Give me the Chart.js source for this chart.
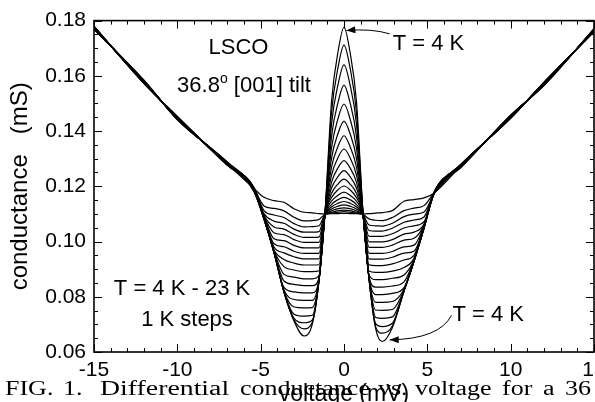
<!DOCTYPE html>
<html>
<head>
<meta charset="utf-8">
<script src="https://cdn.jsdelivr.net/npm/chart.js@4.4.0/dist/chart.umd.min.js"></script>
<style>
  html, body { margin: 0; padding: 0; background: #fff; overflow: hidden; }
  body { width: 595px; height: 402px; position: relative; }
  #wrap { position: absolute; left: 0; top: 0; width: 620px; height: 420px; }
  .cap {
    position: absolute; top: 378px;
    font-family: "Liberation Serif", serif; font-size: 20px; line-height: 20px;
    white-space: nowrap; color: #000;
    transform: scaleX(1.3); transform-origin: left top;
  }
</style>
</head>
<body>
<div id="wrap"><canvas id="chart"></canvas></div>
<span class="cap" style="left:5px">FIG.</span>
<span class="cap" style="left:63px">1.</span>
<span class="cap" style="left:100px; transform: scaleX(1.39)">Differential</span>
<span class="cap" style="left:240px">conductance</span>
<span class="cap" style="left:378px">vs.</span>
<span class="cap" style="left:415px">voltage</span>
<span class="cap" style="left:502px">for</span>
<span class="cap" style="left:543px">a</span>
<span class="cap" style="left:565px">36</span>
<script>
// Conductance curves of the LSCO grain boundary junction, T = 4 K ... 23 K.
const voltage = [-15, -12, -10, -7, -5.4, -4.8, -4.2, -3.6, -3.0, -2.4, -1.9, -1.5, -1.15,
  -0.75, -0.35, 0, 0.35, 0.75, 1.15, 1.5, 1.9, 2.3, 2.9, 3.6, 4.2, 4.8, 5.4, 7, 10, 12, 15];

const temperatures = [4, 5, 6, 7, 8, 9, 10, 11, 12, 13, 14, 15, 16, 17, 18, 19, 20, 21, 22, 23];

const g4K = [0.1776, 0.1576, 0.1449, 0.1280, 0.1180, 0.1080, 0.0959, 0.0816, 0.0712, 0.0658, 0.0702, 0.0857, 0.1094,
  0.1506, 0.1690, 0.1776, 0.1690, 0.1506, 0.1094, 0.0865, 0.0685, 0.0638, 0.0688, 0.0820, 0.0927, 0.1047, 0.1174, 0.1275, 0.1450, 0.1573, 0.1763];
const g5K = [0.1771, 0.1581, 0.1444, 0.1285, 0.1181, 0.1081, 0.0960, 0.0817, 0.0716, 0.0684, 0.0708, 0.0858, 0.1096,
  0.1466, 0.1633, 0.1711, 0.1633, 0.1466, 0.1096, 0.0866, 0.0691, 0.0668, 0.0694, 0.0821, 0.0928, 0.1048, 0.1177, 0.1270, 0.1455, 0.1568, 0.1768];
const g6K = [0.1779, 0.1573, 0.1452, 0.1277, 0.1183, 0.1082, 0.0961, 0.0818, 0.0722, 0.0706, 0.0716, 0.0859, 0.1095,
  0.1424, 0.1571, 0.1640, 0.1571, 0.1424, 0.1095, 0.0867, 0.0703, 0.0692, 0.0704, 0.0822, 0.0929, 0.1049, 0.1173, 0.1278, 0.1447, 0.1576, 0.1760];
const g7K = [0.1773, 0.1579, 0.1446, 0.1283, 0.1184, 0.1082, 0.0961, 0.0818, 0.0737, 0.0730, 0.0733, 0.0859, 0.1094,
  0.1379, 0.1506, 0.1566, 0.1506, 0.1379, 0.1094, 0.0867, 0.0725, 0.0722, 0.0727, 0.0822, 0.0929, 0.1049, 0.1175, 0.1272, 0.1453, 0.1570, 0.1766];
const g8K = [0.1777, 0.1575, 0.1450, 0.1279, 0.1186, 0.1083, 0.0962, 0.0820, 0.0763, 0.0760, 0.0761, 0.0860, 0.1096,
  0.1338, 0.1447, 0.1498, 0.1447, 0.1338, 0.1096, 0.0868, 0.0752, 0.0751, 0.0754, 0.0824, 0.0930, 0.1050, 0.1174, 0.1276, 0.1449, 0.1574, 0.1762];
const g9K = [0.1769, 0.1583, 0.1442, 0.1287, 0.1185, 0.1084, 0.0963, 0.0825, 0.0790, 0.0787, 0.0787, 0.0862, 0.1095,
  0.1301, 0.1393, 0.1436, 0.1393, 0.1301, 0.1095, 0.0869, 0.0780, 0.0780, 0.0783, 0.0827, 0.0931, 0.1051, 0.1178, 0.1268, 0.1457, 0.1566, 0.1770];
const g10K = [0.1775, 0.1577, 0.1448, 0.1281, 0.1188, 0.1085, 0.0964, 0.0834, 0.0818, 0.0814, 0.0814, 0.0863, 0.1094,
  0.1269, 0.1346, 0.1383, 0.1346, 0.1269, 0.1094, 0.0871, 0.0808, 0.0808, 0.0812, 0.0833, 0.0932, 0.1052, 0.1175, 0.1274, 0.1451, 0.1572, 0.1764];
const g11K = [0.1772, 0.1580, 0.1445, 0.1284, 0.1188, 0.1086, 0.0965, 0.0857, 0.0845, 0.0840, 0.0840, 0.0868, 0.1096,
  0.1240, 0.1305, 0.1335, 0.1305, 0.1240, 0.1096, 0.0874, 0.0835, 0.0835, 0.0839, 0.0854, 0.0933, 0.1053, 0.1176, 0.1271, 0.1454, 0.1569, 0.1767];
const g12K = [0.1778, 0.1574, 0.1451, 0.1278, 0.1191, 0.1086, 0.0965, 0.0881, 0.0871, 0.0865, 0.0865, 0.0877, 0.1095,
  0.1214, 0.1268, 0.1293, 0.1268, 0.1214, 0.1095, 0.0879, 0.0862, 0.0862, 0.0867, 0.0879, 0.0934, 0.1053, 0.1173, 0.1277, 0.1448, 0.1575, 0.1761];
const g13K = [0.1770, 0.1582, 0.1443, 0.1286, 0.1189, 0.1087, 0.0967, 0.0909, 0.0897, 0.0891, 0.0891, 0.0894, 0.1095,
  0.1193, 0.1236, 0.1257, 0.1236, 0.1193, 0.1095, 0.0893, 0.0888, 0.0888, 0.0893, 0.0906, 0.0939, 0.1054, 0.1177, 0.1269, 0.1456, 0.1567, 0.1769];
const g14K = [0.1780, 0.1572, 0.1453, 0.1276, 0.1195, 0.1088, 0.0970, 0.0935, 0.0922, 0.0915, 0.0915, 0.0916, 0.1094,
  0.1174, 0.1209, 0.1226, 0.1209, 0.1174, 0.1094, 0.0916, 0.0913, 0.0913, 0.0919, 0.0933, 0.0950, 0.1055, 0.1172, 0.1279, 0.1446, 0.1577, 0.1759];
const g15K = [0.1774, 0.1578, 0.1447, 0.1282, 0.1192, 0.1089, 0.0980, 0.0959, 0.0945, 0.0937, 0.0937, 0.0937, 0.1096,
  0.1159, 0.1188, 0.1201, 0.1188, 0.1159, 0.1096, 0.0937, 0.0936, 0.0936, 0.0943, 0.0958, 0.0965, 0.1056, 0.1175, 0.1273, 0.1452, 0.1571, 0.1765];
const g16K = [0.1771, 0.1581, 0.1444, 0.1285, 0.1190, 0.1090, 0.0992, 0.0981, 0.0965, 0.0957, 0.0957, 0.0957, 0.1095,
  0.1146, 0.1168, 0.1179, 0.1168, 0.1146, 0.1095, 0.0957, 0.0957, 0.0957, 0.0964, 0.0981, 0.0987, 0.1058, 0.1177, 0.1270, 0.1455, 0.1568, 0.1768];
const g17K = [0.1776, 0.1576, 0.1449, 0.1280, 0.1193, 0.1091, 0.1010, 0.1003, 0.0986, 0.0977, 0.0977, 0.0977, 0.1095,
  0.1134, 0.1152, 0.1160, 0.1152, 0.1134, 0.1095, 0.0979, 0.0979, 0.0979, 0.0987, 0.1005, 0.1012, 0.1060, 0.1174, 0.1275, 0.1450, 0.1573, 0.1763];
const g18K = [0.1768, 0.1584, 0.1441, 0.1288, 0.1189, 0.1092, 0.1032, 0.1025, 0.1007, 0.0997, 0.0997, 0.0997, 0.1096,
  0.1125, 0.1139, 0.1145, 0.1139, 0.1125, 0.1096, 0.0999, 0.0999, 0.0999, 0.1007, 0.1027, 0.1034, 0.1063, 0.1178, 0.1267, 0.1458, 0.1565, 0.1771];
const g19K = [0.1777, 0.1575, 0.1450, 0.1279, 0.1194, 0.1095, 0.1053, 0.1045, 0.1026, 0.1015, 0.1015, 0.1016, 0.1095,
  0.1118, 0.1128, 0.1133, 0.1128, 0.1118, 0.1095, 0.1019, 0.1019, 0.1019, 0.1028, 0.1049, 0.1057, 0.1072, 0.1174, 0.1276, 0.1449, 0.1574, 0.1762];
const g20K = [0.1773, 0.1579, 0.1446, 0.1283, 0.1192, 0.1101, 0.1074, 0.1066, 0.1045, 0.1034, 0.1034, 0.1036, 0.1096,
  0.1111, 0.1119, 0.1122, 0.1119, 0.1111, 0.1096, 0.1040, 0.1038, 0.1038, 0.1048, 0.1070, 0.1078, 0.1089, 0.1175, 0.1272, 0.1453, 0.1570, 0.1766];
const g21K = [0.1779, 0.1573, 0.1452, 0.1277, 0.1195, 0.1112, 0.1096, 0.1087, 0.1065, 0.1053, 0.1054, 0.1057, 0.1097,
  0.1106, 0.1112, 0.1114, 0.1112, 0.1106, 0.1097, 0.1060, 0.1057, 0.1056, 0.1066, 0.1090, 0.1099, 0.1107, 0.1173, 0.1278, 0.1447, 0.1576, 0.1760];
const g22K = [0.1772, 0.1580, 0.1445, 0.1284, 0.1191, 0.1129, 0.1120, 0.1111, 0.1088, 0.1075, 0.1076, 0.1080, 0.1098,
  0.1103, 0.1106, 0.1108, 0.1106, 0.1103, 0.1098, 0.1082, 0.1077, 0.1076, 0.1087, 0.1112, 0.1121, 0.1130, 0.1176, 0.1271, 0.1454, 0.1569, 0.1767];
const g23K = [0.1775, 0.1577, 0.1448, 0.1281, 0.1192, 0.1160, 0.1148, 0.1142, 0.1119, 0.1106, 0.1104, 0.1101, 0.1100,
  0.1101, 0.1101, 0.1102, 0.1101, 0.1101, 0.1100, 0.1101, 0.1103, 0.1105, 0.1112, 0.1146, 0.1152, 0.1158, 0.1175, 0.1274, 0.1451, 0.1572, 0.1764];

const curves = [g4K, g5K, g6K, g7K, g8K, g9K, g10K, g11K, g12K, g13K,
  g14K, g15K, g16K, g17K, g18K, g19K, g20K, g21K, g22K, g23K];

// axis ticks
const xTickValues = [-15, -10, -5, 0, 5, 10, 15];
const yTickValues = [0.06, 0.08, 0.10, 0.12, 0.14, 0.16, 0.18];

// arrows: start, control, tip (voltage, conductance)
const topArrow = [[2.74, 0.1752], [1.66, 0.1772], [0.14, 0.1764]];
const bottomArrow = [[6.45, 0.0733], [5.73, 0.0647], [2.74, 0.0644]];

const SANS = '"Liberation Sans", Arial, sans-serif';

/**
 * Inward tick marks on all four sides plus the box round the plot
 */
const framePlugin = {
  id: 'frame',
  afterDatasetsDraw(chart) {
    const { ctx, chartArea: a } = chart;
    const x = chart.scales.x, y = chart.scales.y;
    ctx.save();
    ctx.strokeStyle = '#000';
    ctx.lineWidth = 1;
    ctx.beginPath();
    for (let i = 0; i <= 30; i++) {
      const px = Math.round(x.getPixelForValue(-15 + i)) + 0.5;
      const len = i % 5 === 0 ? 8 : 4;
      ctx.moveTo(px, a.bottom); ctx.lineTo(px, a.bottom - len);
      ctx.moveTo(px, a.top); ctx.lineTo(px, a.top + len);
    }
    for (let i = 0; i <= 24; i++) {
      const py = Math.round(y.getPixelForValue(0.06 + i * 0.005)) + 0.5;
      const len = i % 4 === 0 ? 8 : 4;
      ctx.moveTo(a.left, py); ctx.lineTo(a.left + len, py);
      ctx.moveTo(a.right, py); ctx.lineTo(a.right - len, py);
    }
    ctx.stroke();
    ctx.lineWidth = 1.6;
    ctx.strokeRect(a.left, a.top, a.right - a.left, a.bottom - a.top);
    ctx.restore();
  }
};

function drawArrow(ctx, x, y, pts) {
  const p = pts.map(([v, g]) => [x.getPixelForValue(v), y.getPixelForValue(g)]);
  ctx.beginPath();
  ctx.moveTo(p[0][0], p[0][1]);
  ctx.quadraticCurveTo(p[1][0], p[1][1], p[2][0], p[2][1]);
  ctx.stroke();
  // arrow head along the last tangent
  const ang = Math.atan2(p[2][1] - p[1][1], p[2][0] - p[1][0]);
  const len = 9, half = 3.5;
  const bx = p[2][0] - len * Math.cos(ang), by = p[2][1] - len * Math.sin(ang);
  ctx.beginPath();
  ctx.moveTo(p[2][0], p[2][1]);
  ctx.lineTo(bx - half * Math.sin(ang), by + half * Math.cos(ang));
  ctx.lineTo(bx + half * Math.sin(ang), by - half * Math.cos(ang));
  ctx.closePath();
  ctx.fill();
}

/**
 * Text labels and arrows inside the plot
 */
const notesPlugin = {
  id: 'notes',
  afterDraw(chart) {
    const { ctx } = chart;
    const x = chart.scales.x, y = chart.scales.y;
    ctx.save();
    ctx.fillStyle = '#000';
    ctx.strokeStyle = '#000';
    ctx.lineWidth = 1;
    ctx.textBaseline = 'alphabetic';
    ctx.font = '22px ' + SANS;

    ctx.textAlign = 'center';
    ctx.fillText('LSCO', x.getPixelForValue(-6.33), y.getPixelForValue(0.1680));
    ctx.fillText('T = 4 K - 23 K', x.getPixelForValue(-9.72), y.getPixelForValue(0.0808));
    ctx.fillText('1 K steps', x.getPixelForValue(-9.42), y.getPixelForValue(0.0693));

    // "36.8°  [001] tilt" with a raised small o
    const a = '36.8', b = ' [001] tilt';
    ctx.textAlign = 'left';
    const wa = ctx.measureText(a).width, wb = ctx.measureText(b).width;
    ctx.font = '14px ' + SANS;
    const wo = ctx.measureText('o').width;
    const total = wa + wo + wb;
    let tx = x.getPixelForValue(-6.0) - total / 2;
    const ty = y.getPixelForValue(0.1540);
    ctx.font = '22px ' + SANS;
    ctx.fillText(a, tx, ty);
    ctx.font = '14px ' + SANS;
    ctx.fillText('o', tx + wa, ty - 9);
    ctx.font = '22px ' + SANS;
    ctx.fillText(b, tx + wa + wo, ty);

    ctx.fillText('T = 4 K', x.getPixelForValue(2.92), y.getPixelForValue(0.1692));
    ctx.fillText('T = 4 K', x.getPixelForValue(6.51), y.getPixelForValue(0.0712));

    drawArrow(ctx, x, y, topArrow);
    drawArrow(ctx, x, y, bottomArrow);
    ctx.restore();
  }
};

const datasets = curves.map((vals, i) => ({
  label: temperatures[i] + ' K',
  data: voltage.map((v, j) => ({ x: v, y: vals[j] })),
  borderColor: '#000',
  borderWidth: 1.2,
  pointRadius: 0,
  fill: false,
  cubicInterpolationMode: 'monotone'
}));

new Chart(document.getElementById('chart'), {
  type: 'line',
  data: { datasets },
  options: {
    responsive: true,
    maintainAspectRatio: false,
    animation: false,
    layout: { padding: { left: 0, right: 26, top: 18, bottom: 0 } },
    plugins: { legend: { display: false }, tooltip: { enabled: false } },
    scales: {
      x: {
        type: 'linear',
        min: -15,
        max: 15,
        afterBuildTicks: s => { s.ticks = xTickValues.map(v => ({ value: v })); },
        afterFit: s => { s.height = 68; },
        grid: { display: false, drawTicks: false },
        border: { display: false },
        ticks: {
          color: '#000', padding: 6, maxRotation: 0, autoSkip: false,
          font: { family: SANS, size: 21 },
          callback: v => String(v)
        },
        title: {
          display: true, text: 'voltage (mV)', color: '#000',
          font: { family: SANS, size: 23 },
          padding: { top: 0, bottom: 12 }
        }
      },
      y: {
        type: 'linear',
        min: 0.06,
        max: 0.18,
        afterBuildTicks: s => { s.ticks = yTickValues.map(v => ({ value: v })); },
        afterFit: s => { s.width = 94; },
        grid: { display: false, drawTicks: false },
        border: { display: false },
        ticks: {
          color: '#000', padding: 8, autoSkip: false,
          font: { family: SANS, size: 21 },
          callback: v => v.toFixed(2)
        },
        title: {
          display: true, text: 'conductance   (mS)', color: '#000',
          font: { family: SANS, size: 24 },
          padding: { top: 6, bottom: 0 }
        }
      }
    }
  },
  plugins: [framePlugin, notesPlugin]
});
</script>
</body>
</html>
